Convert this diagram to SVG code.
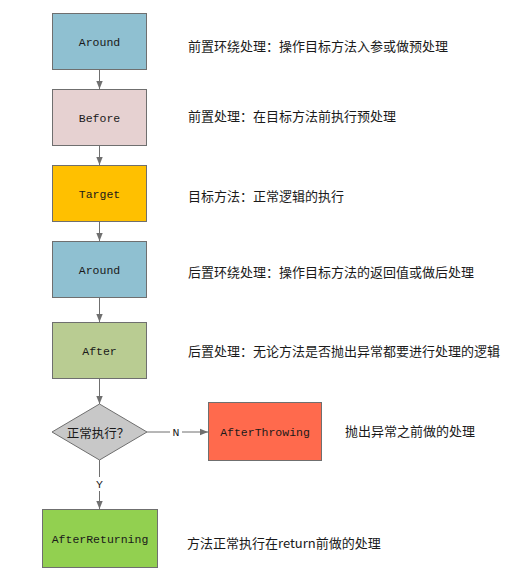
<svg xmlns="http://www.w3.org/2000/svg" width="532" height="585" viewBox="0 0 532 585">
<style>
.box{stroke:#6f6f6f;stroke-width:1}
.lbl{font-family:"Liberation Mono","Noto Sans CJK SC",monospace;font-size:11.5px;text-anchor:middle;dominant-baseline:central;fill:#1a1a1a}
.desc{font-family:"Noto Sans CJK SC",sans-serif;font-size:13px;fill:#1a1a1a;dominant-baseline:central}
.edge{stroke:#6f6f6f;stroke-width:1;fill:none;marker-end:url(#arr)}
.el{font-family:"Liberation Mono",monospace;font-size:11.5px;text-anchor:middle;dominant-baseline:central;fill:#1a1a1a}
</style>
<defs>
<marker id="arr" viewBox="0 0 10 10" refX="10" refY="5" markerWidth="8" markerHeight="8" markerUnits="userSpaceOnUse" orient="auto">
<path d="M0,1 L10,5 L0,9 Z" fill="#6f6f6f"/>
</marker>
</defs>
<rect width="532" height="585" fill="#ffffff"/>
<g id="connectors">
<line class="edge" x1="99.5" y1="69" x2="99.5" y2="89"/>
<line class="edge" x1="99.5" y1="145" x2="99.5" y2="165"/>
<line class="edge" x1="99.5" y1="221" x2="99.5" y2="241"/>
<line class="edge" x1="99.5" y1="297" x2="99.5" y2="322"/>
<line class="edge" x1="99.5" y1="378" x2="99.5" y2="404"/>
<line class="edge" x1="147" y1="432" x2="208" y2="432"/>
<line class="edge" x1="99.5" y1="460" x2="99.5" y2="509"/>
<rect x="170" y="425" width="12" height="14" fill="#ffffff"/>
<text class="el" x="176" y="432">N</text>
<rect x="93" y="477" width="13" height="14" fill="#ffffff"/>
<text class="el" x="99.5" y="484">Y</text>
</g>
<g id="around1">
<rect class="box" x="52.5" y="13.5" width="94" height="56" fill="#8fc0d1"/>
<text class="lbl" x="99.5" y="42">Around</text>
</g>
<g id="before">
<rect class="box" x="52.5" y="89.5" width="94" height="56" fill="#e6d1d1"/>
<text class="lbl" x="99.5" y="118">Before</text>
</g>
<g id="target">
<rect class="box" x="52.5" y="165.5" width="94" height="56" fill="#ffc000"/>
<text class="lbl" x="99.5" y="194">Target</text>
</g>
<g id="around2">
<rect class="box" x="52.5" y="241.5" width="94" height="56" fill="#8fc0d1"/>
<text class="lbl" x="99.5" y="270">Around</text>
</g>
<g id="after">
<rect class="box" x="52.5" y="322.5" width="94" height="56" fill="#b9cc92"/>
<text class="lbl" x="99.5" y="351">After</text>
</g>
<g id="decision">
<polygon class="box" points="99.5,404 147,432 99.5,460 52,432" fill="#c8c8c8"/>
<text class="lbl" x="98" y="432" style="font-family:'Noto Sans CJK SC',sans-serif;font-size:12.5px">正常执行？</text>
</g>
<g id="afterthrowing">
<rect class="box" x="208.5" y="402.5" width="113" height="58" fill="#ff6a4d"/>
<text class="lbl" x="265" y="432">AfterThrowing</text>
</g>
<g id="afterreturning">
<rect class="box" x="42.5" y="509.5" width="115" height="58" fill="#92d050"/>
<text class="lbl" x="100" y="539">AfterReturning</text>
</g>
<g id="descriptions">
<text class="desc" x="188" y="45">前置环绕处理：操作目标方法入参或做预处理</text>
<text class="desc" x="188" y="115">前置处理：在目标方法前执行预处理</text>
<text class="desc" x="188" y="195">目标方法：正常逻辑的执行</text>
<text class="desc" x="188" y="271">后置环绕处理：操作目标方法的返回值或做后处理</text>
<text class="desc" x="188" y="350">后置处理：无论方法是否抛出异常都要进行处理的逻辑</text>
<text class="desc" x="345" y="430">抛出异常之前做的处理</text>
<text class="desc" x="187" y="542">方法正常执行在return前做的处理</text>
</g>
</svg>
